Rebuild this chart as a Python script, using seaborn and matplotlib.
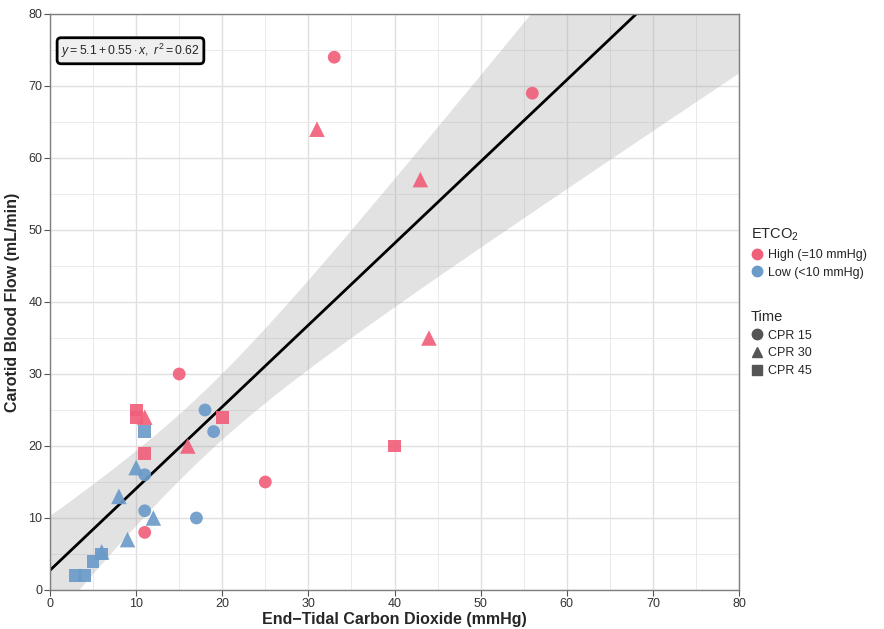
import numpy as np
import pandas as pd
import matplotlib
matplotlib.use('Agg')
import matplotlib.pyplot as plt
from matplotlib.lines import Line2D
import seaborn as sns

# Data
etco2 = [33, 56, 15, 25, 11,
         31, 43, 44, 16, 11,
         40, 20, 10, 10, 11,
         18, 19, 11, 11, 17,
         10, 8, 12, 9, 6,
         11, 6, 5, 3, 4]
flow = [74, 69, 30, 15, 8,
        64, 57, 35, 20, 24,
        20, 24, 25, 24, 19,
        25, 22, 16, 11, 10,
        17, 13, 10, 7, 5.3,
        22, 5, 4, 2, 2]
group = ['High (=10 mmHg)'] * 15 + ['Low (<10 mmHg)'] * 15
time = (['CPR 15'] * 5 + ['CPR 30'] * 5 + ['CPR 45'] * 5) * 2

df = pd.DataFrame({'etco2': etco2, 'flow': flow, 'group': group, 'time': time})

colors = {'High (=10 mmHg)': '#F0607A', 'Low (<10 mmHg)': '#6B9BC9'}
markers = {'CPR 15': 'o', 'CPR 30': '^', 'CPR 45': 's'}
msize = {'CPR 15': 85, 'CPR 30': 125, 'CPR 45': 85}

sns.set_style('white')
plt.rcParams['font.family'] = ['Liberation Sans', 'DejaVu Sans']
plt.rcParams['mathtext.fontset'] = 'custom'
plt.rcParams['mathtext.rm'] = 'Liberation Sans'
plt.rcParams['mathtext.it'] = 'Liberation Sans:italic'

fig = plt.figure(figsize=(8.84, 6.29), dpi=100)
ax = fig.add_axes([50 / 884, 39 / 629, 689 / 884, 576 / 629])

ax.set_xlim(0, 80)
ax.set_ylim(0, 80)

# grid (major + minor)
ax.set_xticks(np.arange(0, 81, 10))
ax.set_yticks(np.arange(0, 81, 10))
ax.set_xticks(np.arange(5, 80, 10), minor=True)
ax.set_yticks(np.arange(5, 80, 10), minor=True)
ax.grid(which='major', color='#e0e0e0', linewidth=1.0)
ax.grid(which='minor', color='#eaeaea', linewidth=0.7)
ax.set_axisbelow(True)

# linear fit with analytic 95% confidence band (like lm smoothing)
x = df['etco2'].to_numpy(float)
y = df['flow'].to_numpy(float)
n = len(x)
b1, b0 = np.polyfit(x, y, 1)
resid = y - (b0 + b1 * x)
sigma = np.sqrt(np.sum(resid ** 2) / (n - 2))
xs = np.linspace(0, 80, 200)
se = sigma * np.sqrt(1 / n + (xs - x.mean()) ** 2 / np.sum((x - x.mean()) ** 2))
tval = 2.048
ax.fill_between(xs, b0 + b1 * xs - tval * se, b0 + b1 * xs + tval * se,
                color='#999999', alpha=0.28, linewidth=0, zorder=1)
sns.regplot(x='etco2', y='flow', data=df, scatter=False, truncate=False, ci=None,
            color='black', line_kws={'linewidth': 2, 'zorder': 2}, ax=ax)

# points, one call per time so each shape can get its own size
for t, m in markers.items():
    sub = df[df['time'] == t]
    sns.scatterplot(x='etco2', y='flow', data=sub, hue='group', palette=colors,
                    marker=m, s=msize[t], alpha=0.92, edgecolor='none',
                    legend=False, ax=ax, zorder=3)

ax.set_xlim(0, 80)
ax.set_ylim(0, 80)

for s in ax.spines.values():
    s.set_color('#7f7f7f')
    s.set_linewidth(1.0)
ax.tick_params(which='major', direction='out', length=4, width=0.8, color='#555555',
               labelsize=9, labelcolor='#333333', bottom=True, left=True, pad=1.5)
ax.tick_params(which='minor', length=0)

ax.set_xlabel('End\u2212Tidal Carbon Dioxide (mmHg)', fontsize=11.5, fontweight='bold', labelpad=2)
ax.set_ylabel('Carotid Blood Flow (mL/min)', fontsize=11.5, fontweight='bold', labelpad=6)

ax.text(0.016, 0.952, r'$y = 5.1 + 0.55 \cdot x,\ r^2 = 0.62$', transform=ax.transAxes,
        fontsize=8.8, va='top', ha='left',
        bbox=dict(boxstyle='round,pad=0.32', facecolor='#efefef', edgecolor='black', linewidth=2))

# legends
h1 = [Line2D([], [], marker='o', linestyle='', markersize=7.5, color=c, label=k)
      for k, c in colors.items()]
h2 = [Line2D([], [], marker=m, linestyle='', markersize=7.5, color='#555555', label=k)
      for k, m in markers.items()]
leg1 = fig.legend(handles=h1, title='ETCO$_2$', loc='upper left', bbox_to_anchor=(746 / 884, 1 - 222 / 629),
                  frameon=False, fontsize=9, title_fontsize=10.5, handletextpad=0.4,
                  handlelength=1.0, labelspacing=0.45, borderaxespad=0)
leg1._legend_box.align = 'left'
leg2 = fig.legend(handles=h2, title='Time', loc='upper left', bbox_to_anchor=(746 / 884, 1 - 305 / 629),
                  frameon=False, fontsize=9, title_fontsize=10.5, handletextpad=0.4,
                  handlelength=1.0, labelspacing=0.45, borderaxespad=0)
leg2._legend_box.align = 'left'

fig.savefig('out.png', dpi=100)
